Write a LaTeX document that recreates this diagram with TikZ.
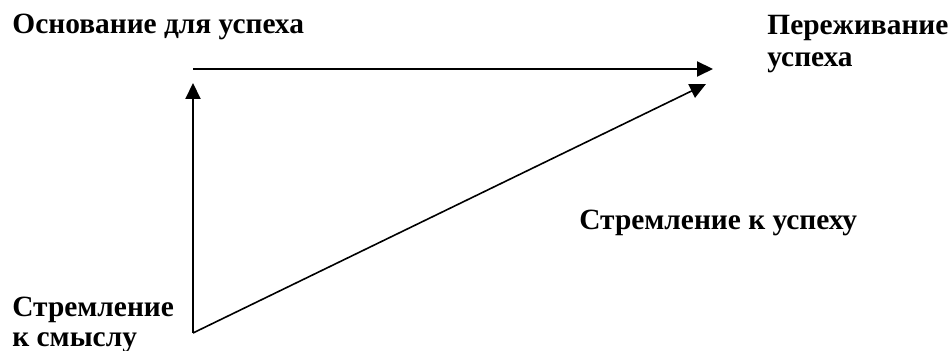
\documentclass[tikz,border=0pt]{standalone}
\usepackage{fontspec}
\setmainfont{Liberation Serif}
\usetikzlibrary{arrows.meta, positioning}

\begin{document}
\begin{tikzpicture}[x=0.5pt, y=-0.5pt,
  txt/.style={anchor=base west, inner sep=0, font=\fontsize{14.7}{17}\selectfont\bfseries},
  vec/.style={line width=1pt, -{Triangle[length=8pt, width=7.5pt]}}
  ]
  \useasboundingbox (0,0) rectangle (949,351);

  % вершины
  \coordinate (o) at (193,333);
  \coordinate (a) at (193,69);
  \coordinate (b) at (713,69);
  \coordinate (c) at (193,83);
  \coordinate (d) at (706,84);

  \draw node[txt] (osnova) at (12,34) {Основание для успеха};
  \draw node[txt] (perezh) at (767,35) {Переживание}
    node[txt] (perezhB) at ([yshift=-16pt]perezh.base west) {успеха};
  \draw node[txt] (uspeh) at (579,230) {Стремление к успеху};
  \draw node[txt] (smysl) at (12,317) {Стремление}
    node[txt] (smyslB) at ([yshift=-15pt]smysl.base west) {к смыслу};

  \draw[vec] (a) -- (b);
  \draw[vec] (o) -- (c);
  \draw[vec, line width=0.8pt] (o) -- (d);
\end{tikzpicture}
\end{document}
